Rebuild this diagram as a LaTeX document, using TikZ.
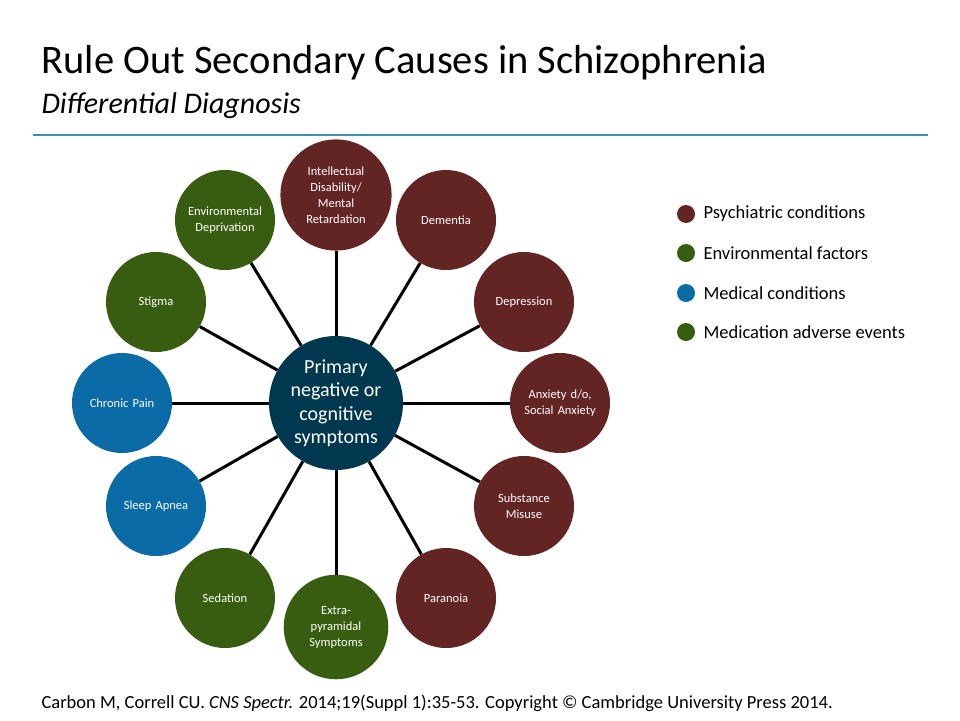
\documentclass[tikz,border=0pt]{standalone}
\usepackage{fontspec}
\setmainfont{Carlito}
\definecolor{psy}{HTML}{632523}
\definecolor{env}{HTML}{385D10}
\definecolor{med}{HTML}{0B6BA6}
\definecolor{ctr}{HTML}{00384F}
\definecolor{rule}{HTML}{3B8FA6}
\begin{document}
\begin{tikzpicture}[x=1pt,y=-1pt,
  sat/.style={circle,minimum size=100pt,inner sep=0pt,text=white,align=center,font=\fontsize{12.5}{16}\selectfont,text width=96pt},
  p/.style={sat,fill=psy}, e/.style={sat,fill=env}, m/.style={sat,fill=med},
  spoke/.style={line width=3pt,black},
  dot/.style={circle,minimum size=18pt,inner sep=0pt},
  leg/.style={anchor=west,font=\fontsize{18.5}{20}\selectfont}]
\useasboundingbox (0,0) rectangle (960,720);
\node[anchor=west,font=\fontsize{40.5}{44}\selectfont] (t1) at (38,63) {Rule Out Secondary Causes in Schizophrenia};
\node[anchor=west,font=\fontsize{30}{34}\selectfont\itshape] (t2) at (38,106) {Differential Diagnosis};
\draw[rule,line width=1.2pt] (33,135) -- (928,135);
\node[circle,fill=ctr,minimum size=134pt,inner sep=0pt,text=white,align=center,font=\fontsize{20}{23.5}\selectfont] (c) at (336,403) {Primary\\negative or\\cognitive\\symptoms};
\node[p] (a1) at (336,195) {Intellectual\\Disability/\\Mental\\Retardation};
\node[p] (a2) at (446,220) {Dementia};
\node[p] (a3) at (524,302) {Depression};
\node[p] (a4) at (560,403) {Anxiety d/o,\\Social Anxiety};
\node[p] (a5) at (524,506) {Substance\\Misuse};
\node[p] (a6) at (446,598) {Paranoia};
\node[e] (a7) at (336,627) {Extra-\\pyramidal\\Symptoms};
\node[e] (a8) at (225,598) {Sedation};
\node[m] (a9) at (156,506) {Sleep Apnea};
\node[m] (a10) at (122,403) {Chronic Pain};
\node[e] (a11) at (156,302) {Stigma};
\node[e] (a12) at (225,220) {Environmental\\Deprivation};
\begin{scope}[on background layer/.try]
\end{scope}
\foreach \i in {1,...,12} \draw[spoke] (c) -- (a\i);
\node[dot,fill=psy] (l1) at (686,214) {};
\node[dot,fill=env] (l2) at (686,253) {};
\node[dot,fill=med] (l3) at (686,293) {};
\node[dot,fill=env] (l4) at (686,332) {};
\node[leg] (lt1) at (700,214) {Psychiatric conditions};
\node[leg] (lt2) at (700,253) {Environmental factors};
\node[leg] (lt3) at (700,293) {Medical conditions};
\node[leg] (lt4) at (700,332) {Medication adverse events};
\node[anchor=west,font=\fontsize{18.5}{20}\selectfont] (src) at (38,703) {Carbon M, Correll CU. \textit{CNS Spectr.} 2014;19(Suppl 1):35-53. Copyright © Cambridge University Press 2014.};
\end{tikzpicture}
\end{document}
